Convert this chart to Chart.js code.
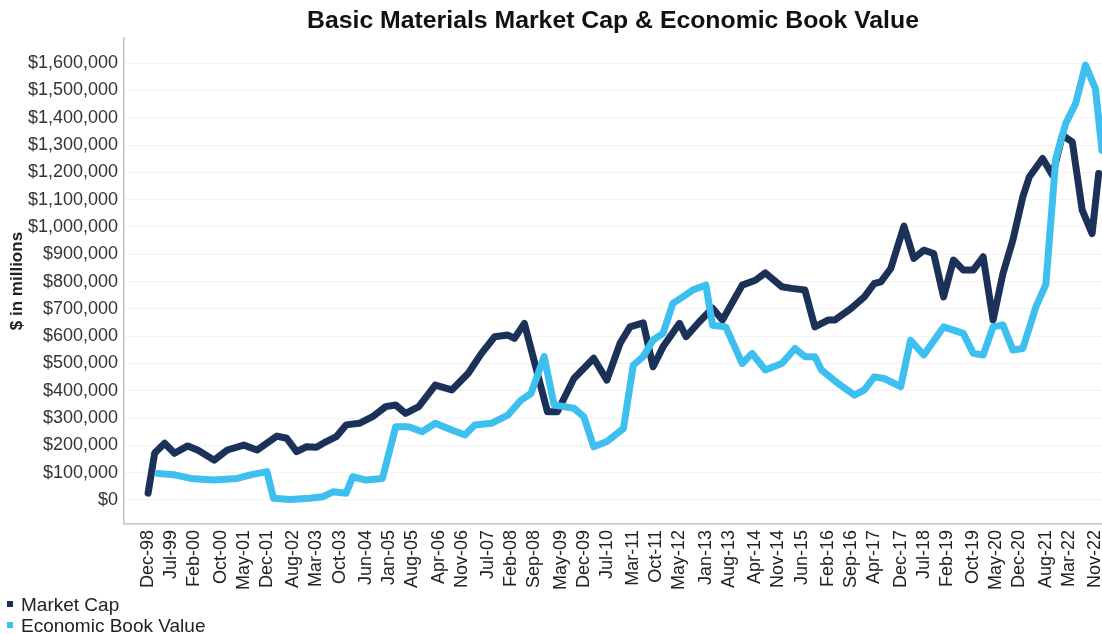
<!DOCTYPE html>
<html>
<head>
<meta charset="utf-8">
<script src="https://cdn.jsdelivr.net/npm/chart.js@4.4.1/dist/chart.umd.min.js"></script>
<style>
  html, body { margin: 0; padding: 0; background: #ffffff; }
  #wrap { position: relative; width: 1102px; height: 634px; overflow: hidden; }
  #legend { position: absolute; left: 7px; top: 594px; font-family: "Liberation Sans", Arial, sans-serif; font-size: 19px; color: #222; }
  .row { height: 21px; line-height: 21px; white-space: nowrap; }
  .sw { display: inline-block; width: 6px; height: 6px; margin-right: 8px; vertical-align: middle; position: relative; top: -2px; }
</style>
</head>
<body>
<div id="wrap">
  <canvas id="c" width="1102" height="634"></canvas>
  <div id="legend"></div>
</div>
<script>
// ---- Data (months since Dec-98, values in $ millions) ----
const tickMonths = [0,7,14,22,29,36,44,51,58,66,73,80,88,95,103,110,117,125,132,139,147,154,161,169,176,184,191,198,206,213,220,228,235,242,250,257,264,272,279,287];
const tickLabels = ['Dec-98','Jul-99','Feb-00','Oct-00','May-01','Dec-01','Aug-02','Mar-03','Oct-03','Jun-04','Jan-05','Aug-05','Apr-06','Nov-06','Jul-07','Feb-08','Sep-08','May-09','Dec-09','Jul-10','Mar-11','Oct-11','May-12','Jan-13','Aug-13','Apr-14','Nov-14','Jun-15','Feb-16','Sep-16','Apr-17','Dec-17','Jul-18','Feb-19','Oct-19','May-20','Dec-20','Aug-21','Mar-22','Nov-22'];
const yTickValues = [0,100000,200000,300000,400000,500000,600000,700000,800000,900000,1000000,1100000,1200000,1300000,1400000,1500000,1600000];

const marketCapMonths = [0,2,5,8,12,15,20,24,29,33,39,42,45,48,51,54,57,60,64,68,72,75,78,82,87,92,97,101,105,109,111,114,121,124,129,135,139,143,146,150,153,156,161,163,167,171,174,180,184,187,192,195,199,202,206,208,213,217,220,222,225,229,232,235,238,241,244,247,250,253,256,259,262,265,267,271,274,277,280,283,286,288];
const marketCapValues = [25000,172000,208000,171000,198000,183000,146000,183000,201000,183000,234000,226000,177000,195000,193000,214000,232000,275000,281000,305000,342000,348000,317000,342000,421000,403000,464000,537000,598000,604000,592000,647000,323000,323000,445000,519000,439000,574000,634000,649000,488000,561000,647000,598000,653000,702000,659000,787000,805000,832000,781000,775000,769000,634000,659000,659000,702000,744000,793000,799000,848000,1003000,885000,915000,903000,744000,879000,842000,842000,891000,659000,830000,952000,1110000,1184000,1251000,1190000,1336000,1312000,1062000,976000,1196000];

const ebvMonths = [3,8,13,20,27,31,36,38,43,49,53,56,60,62,66,71,75,79,83,87,92,96,99,104,109,113,116,120,123,129,132,135,139,144,147,150,153,156,159,162,165,169,171,175,180,183,187,192,196,199,202,204,209,214,217,220,223,228,231,235,241,247,250,253,256,259,262,265,269,272,275,278,281,284,287,289];
const ebvValues = [97000,92000,79000,73000,79000,92000,104000,6000,2000,6000,12000,30000,25000,85000,73000,79000,268000,268000,250000,281000,256000,238000,275000,281000,311000,366000,390000,525000,348000,336000,305000,195000,214000,262000,494000,525000,586000,610000,720000,744000,769000,787000,640000,634000,500000,537000,476000,500000,555000,525000,525000,476000,427000,384000,403000,451000,445000,415000,585000,531000,634000,610000,537000,531000,634000,641000,549000,555000,708000,790000,1250000,1379000,1452000,1593000,1507000,1281000];

const seriesNames = ['Market Cap', 'Economic Book Value'];
const seriesColors = ['#1c3158', '#3dbff0'];

const FONT = '"Liberation Sans", Arial, Helvetica, sans-serif';

function toPoints(xs, ys) { return xs.map((m, i) => ({ x: m, y: ys[i] })); }

const ctx = document.getElementById('c').getContext('2d');
new Chart(ctx, {
  type: 'line',
  data: {
    datasets: [
      { label: seriesNames[0], data: toPoints(marketCapMonths, marketCapValues), borderColor: seriesColors[0], backgroundColor: seriesColors[0], borderWidth: 7, pointRadius: 0, tension: 0, borderJoinStyle: 'round', borderCapStyle: 'round', order: 2 },
      { label: seriesNames[1], data: toPoints(ebvMonths, ebvValues), borderColor: seriesColors[1], backgroundColor: seriesColors[1], borderWidth: 7, pointRadius: 0, tension: 0, borderJoinStyle: 'round', borderCapStyle: 'round', order: 1 }
    ]
  },
  options: {
    responsive: false,
    animation: false,
    devicePixelRatio: 1,
    layout: { padding: { left: 0, right: 0, top: 0, bottom: 0 } },
    plugins: {
      legend: { display: false },
      tooltip: { enabled: false },
      title: {
        display: true,
        text: 'Basic Materials Market Cap & Economic Book Value',
        fullSize: false,
        color: '#111111',
        font: { family: FONT, size: 24.8, weight: 'bold' },
        padding: { top: 6, bottom: 2.3 }
      }
    },
    scales: {
      x: {
        type: 'linear',
        min: -7.3,
        max: 289,
        grid: { display: false, drawTicks: false },
        border: { display: true, color: '#c4c4c4', width: 1.5 },
        afterBuildTicks: (scale) => { scale.ticks = tickMonths.map(v => ({ value: v })); },
        afterFit: (scale) => { scale.height = 110; scale.paddingLeft = 0; scale.paddingRight = 0; },
        ticks: {
          autoSkip: false,
          maxRotation: 90,
          minRotation: 90,
          padding: 6,
          color: '#222222',
          font: { family: FONT, size: 18 },
          callback: (value) => { const i = tickMonths.indexOf(value); return i >= 0 ? tickLabels[i] : ''; }
        }
      },
      y: {
        type: 'linear',
        min: -88000,
        max: 1692000,
        grid: { color: '#f3f3f3', lineWidth: 1, drawTicks: false },
        border: { display: true, color: '#c4c4c4', width: 1.5 },
        afterBuildTicks: (scale) => { scale.ticks = yTickValues.map(v => ({ value: v })); },
        afterFit: (scale) => { scale.width = 124; scale.paddingTop = 0; scale.paddingBottom = 0; },
        title: {
          display: true,
          text: '$ in millions',
          color: '#222222',
          font: { family: FONT, size: 17, weight: 'bold' },
          padding: { top: 7, bottom: 0 }
        },
        ticks: {
          padding: 6,
          color: '#333333',
          font: { family: FONT, size: 18 },
          callback: (value) => '$' + Number(value).toLocaleString('en-US')
        }
      }
    }
  }
});

// HTML legend built from the series arrays
const lg = document.getElementById('legend');
seriesNames.forEach((name, i) => {
  const row = document.createElement('div');
  row.className = 'row';
  const sw = document.createElement('span');
  sw.className = 'sw';
  sw.style.background = seriesColors[i];
  row.appendChild(sw);
  row.appendChild(document.createTextNode(name));
  lg.appendChild(row);
});
</script>
</body>
</html>
